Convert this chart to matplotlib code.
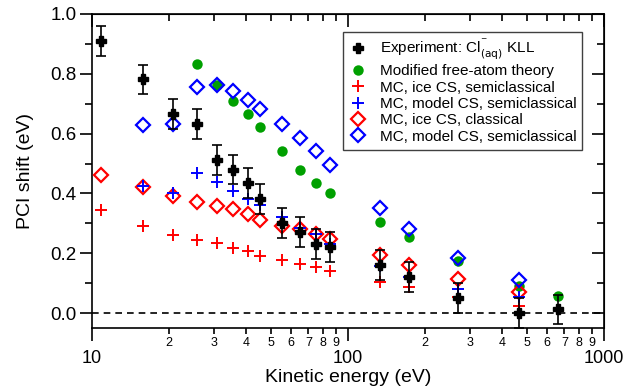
import numpy as np
from matplotlib import pyplot as plt
from matplotlib.ticker import FixedLocator, FixedFormatter, NullFormatter, MultipleLocator

plt.rcParams['font.family'] = ['Liberation Sans', 'DejaVu Sans']

# kinetic energies (eV)
energy = [10.87, 15.86, 20.8, 25.6, 30.7, 35.6, 40.6, 45.4, 55.3, 64.9, 75.0, 85.1, 133.6, 173.0, 270.0, 465.0, 659.0]

# experiment
exp_energy = energy
exp_shift = [0.911, 0.781, 0.666, 0.631, 0.511, 0.480, 0.434, 0.381, 0.300, 0.272, 0.231, 0.222, 0.160, 0.121, 0.051, 0.000, 0.012]
exp_err = [0.05, 0.05, 0.05, 0.05, 0.05, 0.05, 0.05, 0.05, 0.05, 0.05, 0.05, 0.05, 0.05, 0.05, 0.05, 0.05, 0.048]

# modified free-atom theory
fa_energy = [25.6, 30.7, 35.6, 40.6, 45.4, 55.3, 64.9, 75.0, 85.1, 133.6, 173.0, 270.0, 465.0, 659.0]
fa_shift = [0.833, 0.762, 0.709, 0.664, 0.621, 0.543, 0.480, 0.436, 0.402, 0.305, 0.255, 0.174, 0.090, 0.057]

# MC, ice CS, semiclassical
ice_semi_energy = [10.87, 15.86, 20.8, 25.6, 30.7, 35.6, 40.6, 45.4, 55.3, 64.9, 75.0, 85.1, 133.6, 173.0, 270.0, 465.0]
ice_semi_shift = [0.344, 0.292, 0.261, 0.244, 0.233, 0.216, 0.207, 0.190, 0.177, 0.163, 0.153, 0.141, 0.105, 0.086, 0.055, 0.023]

# MC, model CS, semiclassical
model_semi_energy = [15.86, 20.8, 25.6, 30.7, 35.6, 40.6, 45.4, 55.3, 64.9, 75.0, 85.1, 133.6, 173.0, 270.0, 465.0]
model_semi_shift = [0.425, 0.400, 0.467, 0.439, 0.407, 0.381, 0.361, 0.320, 0.285, 0.266, 0.231, 0.157, 0.121, 0.081, 0.052]

# MC, ice CS, classical
ice_class_energy = [10.87, 15.86, 20.8, 25.6, 30.7, 35.6, 40.6, 45.4, 55.3, 64.9, 75.0, 85.1, 133.6, 173.0, 270.0, 465.0]
ice_class_shift = [0.462, 0.420, 0.391, 0.371, 0.359, 0.347, 0.331, 0.311, 0.292, 0.280, 0.265, 0.246, 0.194, 0.161, 0.113, 0.071]

# MC, model CS, semiclassical (diamonds)
model_diam_energy = [15.86, 20.8, 25.6, 30.7, 35.6, 40.6, 45.4, 55.3, 64.9, 75.0, 85.1, 133.6, 173.0, 270.0, 465.0]
model_diam_shift = [0.629, 0.631, 0.755, 0.762, 0.743, 0.712, 0.682, 0.633, 0.586, 0.542, 0.496, 0.352, 0.282, 0.185, 0.110]

major_x = [10, 100, 1000]
minor_subs = [2, 3, 4, 5, 6, 7, 8, 9]

fig = plt.figure(figsize=(6.23, 3.92), dpi=100)
ax = fig.add_axes([92 / 623, 1 - 328 / 392, 512 / 623, 314 / 392])

ax.axhline(0, color='black', linestyle=(0, (4, 3)), linewidth=1.2, zorder=1)

ax.plot(ice_class_energy, ice_class_shift, linestyle='none', marker='D', markersize=7,
        markerfacecolor='none', markeredgecolor='#ff0000', markeredgewidth=1.6,
        label='MC, ice CS, classical', zorder=3)
ax.plot(model_diam_energy, model_diam_shift, linestyle='none', marker='D', markersize=7,
        markerfacecolor='none', markeredgecolor='#0000ff', markeredgewidth=1.6,
        label='MC, model CS, semiclassical', zorder=3)
ax.plot(fa_energy, fa_shift, linestyle='none', marker='o', markersize=7.5,
        color='#00a000', markeredgewidth=0, label='Modified free-atom theory', zorder=2)
ax.plot(ice_semi_energy, ice_semi_shift, linestyle='none', marker='+', markersize=9,
        color='#ff0000', markeredgewidth=1.4, label='MC, ice CS, semiclassical', zorder=4)
ax.plot(model_semi_energy, model_semi_shift, linestyle='none', marker='+', markersize=9,
        color='#0000ff', markeredgewidth=1.4, label='MC, model CS, semiclassical', zorder=4)
exp_bars = ax.errorbar(exp_energy, exp_shift, yerr=exp_err, linestyle='none', marker='P', markersize=7,
                       color='black', ecolor='black', elinewidth=1.2, capsize=3.5, capthick=1.2,
                       label=r'Experiment: Cl$^{^{-}}_{\rm (aq)}$ KLL', zorder=5)

ax.set_xscale('log')
ax.set_xlim(10, 1000)
ax.set_ylim(-0.05, 1.0)

ax.xaxis.set_major_locator(FixedLocator(major_x))
ax.xaxis.set_major_formatter(FixedFormatter([str(v) for v in major_x]))
minor_pos = [d * s for d in (10, 100) for s in minor_subs]
ax.xaxis.set_minor_locator(FixedLocator(minor_pos))
ax.xaxis.set_minor_formatter(FixedFormatter([str(s) for d in (10, 100) for s in minor_subs]))

ax.yaxis.set_major_locator(MultipleLocator(0.2))
ax.yaxis.set_minor_locator(MultipleLocator(0.1))
ax.yaxis.set_major_formatter(plt.FuncFormatter(lambda v, p: f'{v:.1f}'))

ax.tick_params(axis='x', which='major', direction='out', length=9, width=1.2, pad=7, labelsize=13)
ax.tick_params(axis='x', which='minor', direction='out', length=4, width=1.2, pad=2.5, labelsize=9)
ax.tick_params(axis='y', which='major', direction='out', length=9, width=1.2, pad=2, labelsize=13.5)
ax.tick_params(axis='y', which='minor', direction='out', length=5, width=1.2)

for sp in ax.spines.values():
    sp.set_linewidth(1.2)

top = ax.secondary_xaxis('top')
top.xaxis.set_major_locator(FixedLocator(major_x))
top.xaxis.set_minor_locator(FixedLocator(minor_pos))
top.xaxis.set_major_formatter(NullFormatter())
top.xaxis.set_minor_formatter(NullFormatter())
top.tick_params(which='major', direction='in', length=9, width=1.2)
top.tick_params(which='minor', direction='in', length=5, width=1.2)

right = ax.secondary_yaxis('right')
right.yaxis.set_major_locator(MultipleLocator(0.2))
right.yaxis.set_minor_locator(MultipleLocator(0.1))
right.yaxis.set_major_formatter(NullFormatter())
right.tick_params(which='major', direction='in', length=9, width=1.2)
right.tick_params(which='minor', direction='in', length=5, width=1.2)

ax.set_xlabel('Kinetic energy (eV)', fontsize=14, labelpad=1)
ax.set_ylabel('PCI shift (eV)', fontsize=14, labelpad=12)

handles, labels = ax.get_legend_handles_labels()
# legend shows the experiment marker only, without its error bars
handles[5] = exp_bars[0]
order = [5, 2, 3, 4, 0, 1]
leg = ax.legend([handles[i] for i in order], [labels[i] for i in order],
                loc='upper left', bbox_to_anchor=(0.49, 0.943), borderaxespad=0, fontsize=11,
                frameon=True, fancybox=False, edgecolor='#404040', framealpha=1,
                handlelength=1.2, handletextpad=0.8, labelspacing=0.15, borderpad=0.4)
leg.get_frame().set_linewidth(1.0)

fig.savefig('out.png', dpi=100)
